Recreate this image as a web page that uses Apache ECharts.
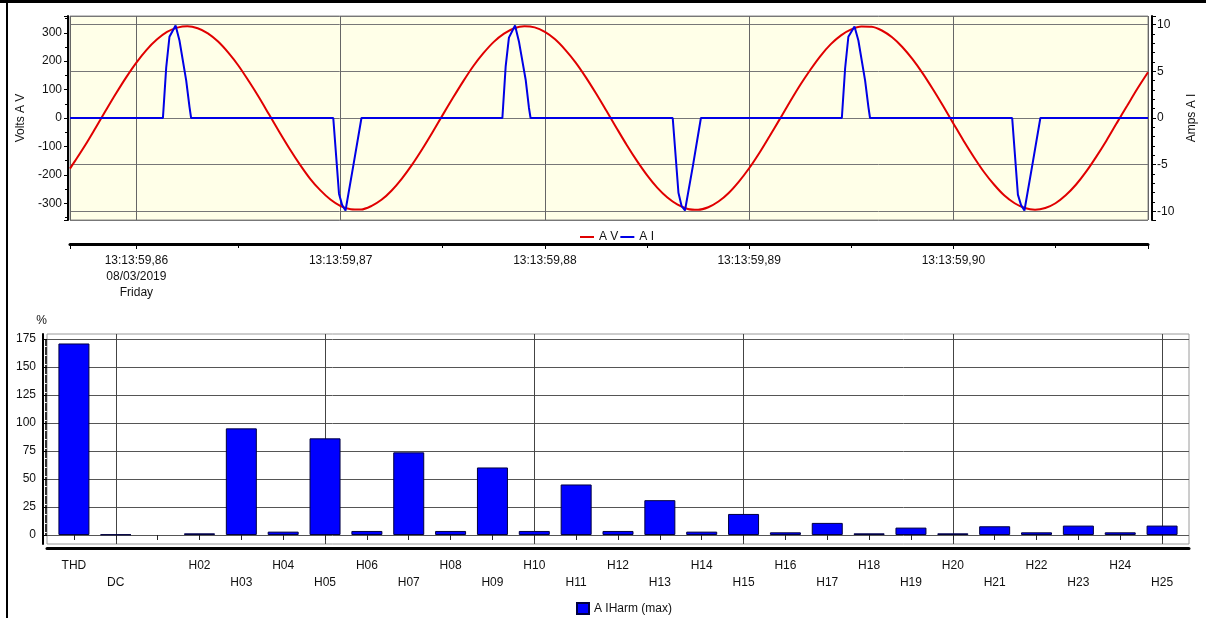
<!DOCTYPE html>
<html lang="en">
<head>
<meta charset="UTF-8">
<title>A V / A I</title>
<script src="https://cdn.jsdelivr.net/npm/echarts@6/dist/echarts.min.js"></script>
<style>
    body { margin: 0; background: #fff; }
    #chart { position: absolute; left: 0; top: 0; width: 1206px; height: 618px; }
    .edge { position: absolute; background: #000; }
</style>
</head>
<body>
<div id="chart"></div>
<div class="edge" style="left:0;top:0;width:1206px;height:3px"></div>
<div class="edge" style="left:6px;top:0;width:2px;height:618px"></div>
<script>
    // time in ms after 13:13:59
    var timePrefix = '13:13:59,';
    var dateLine = '08/03/2019';
    var dayLine = 'Friday';

    var voltTimes = [856.75, 857, 857.5, 858, 858.5, 859, 859.5, 860, 860.5, 861,
        861.5, 862, 862.5, 863, 863.5, 864, 864.5, 865, 865.5, 866,
        866.5, 867, 867.5, 868, 868.5, 869, 869.5, 870, 870.5, 871,
        871.5, 872, 872.5, 873, 873.5, 874, 874.5, 875, 875.5, 876,
        876.5, 877, 877.5, 878, 878.5, 879, 879.5, 880, 880.5, 881,
        881.5, 882, 882.5, 883, 883.5, 884, 884.5, 885, 885.5, 886,
        886.5, 887, 887.5, 888, 888.5, 889, 889.5, 890, 890.5, 891,
        891.5, 892, 892.5, 893, 893.5, 894, 894.5, 895, 895.5, 896,
        896.5, 897, 897.5, 898, 898.5, 899, 899.5, 900, 900.5, 901,
        901.5, 902, 902.5, 903, 903.5, 904, 904.5, 905, 905.5, 906,
        906.5, 907, 907.5, 908, 908.5, 909, 909.53];
    var volts = [-178, -151, -95, -35, 26, 86, 143, 195, 240, 276,
        303, 318, 323, 316, 298, 269, 230, 184, 130, 73,
        12, -49, -108, -163, -213, -254, -287, -310, -321, -322,
        -310, -288, -255, -213, -164, -109, -50, 11, 71, 129,
        183, 229, 268, 297, 316, 323, 319, 303, 277, 240,
        196, 144, 87, 27, -34, -94, -150, -201, -245, -280,
        -305, -320, -323, -314, -294, -264, -224, -177, -123, -64,
        -4, 57, 116, 170, 219, 260, 291, 312, 322, 321,
        308, 284, 250, 207, 157, 101, 42, -19, -80, -137,
        -190, -235, -273, -300, -317, -323, -317, -300, -272, -235,
        -189, -136, -79, -18, 42, 102, 161];

    var ampTimes = [856.75,
        861.30, 861.46, 861.62, 861.92, 862.11, 862.44, 862.60, 862.68,
        869.64, 869.92, 870.07, 870.24, 870.63, 871.02,
        877.92, 878.08, 878.24, 878.54, 878.73, 879.06, 879.22, 879.30,
        886.26, 886.54, 886.69, 886.86, 887.25, 887.64,
        894.54, 894.70, 894.86, 895.16, 895.35, 895.68, 895.84, 895.92,
        902.88, 903.16, 903.31, 903.48, 903.87, 904.26,
        909.53];
    var amps = [0,
        0, 5.4, 8.7, 9.9, 8.3, 4.0, 1.2, 0,
        0, -8.1, -9.3, -9.9, -5.0, 0,
        0, 5.5, 8.6, 9.9, 8.2, 4.1, 1.1, 0,
        0, -8.0, -9.4, -9.9, -5.1, 0,
        0, 5.3, 8.7, 9.8, 8.3, 4.0, 1.2, 0,
        0, -8.2, -9.3, -9.9, -5.0, 0,
        0];

    var harmCats = ['THD', 'DC', 'H01', 'H02', 'H03', 'H04', 'H05', 'H06', 'H07', 'H08', 'H09',
        'H10', 'H11', 'H12', 'H13', 'H14', 'H15', 'H16', 'H17', 'H18', 'H19', 'H20', 'H21', 'H22',
        'H23', 'H24', 'H25'];
    var harmValues = [171, 0.5, null, 1.5, 95.2, 3.0, 86.3, 3.6, 73.8, 3.6, 60.3, 3.6, 45.1, 3.6,
        31.1, 3.0, 18.8, 2.4, 10.8, 1.5, 6.6, 1.5, 7.8, 2.4, 8.4, 2.4, 8.4];

    function pairs(xs, ys) {
        var out = [];
        for (var i = 0; i < xs.length; i++) out.push([xs[i], ys[i]]);
        return out;
    }

    function onStep(v, step) {
        return Math.abs(v - Math.round(v / step) * step) < 1e-6;
    }

    var font = 'Liberation Sans, Arial, sans-serif';
    var black = '#000';
    var noLabel = {show: false};
    var noTick = {show: false};
    var noSplit = {show: false};

    var chart = echarts.init(document.getElementById('chart'));
    var option = {
        animation: false,
        textStyle: {fontFamily: font, fontSize: 12, color: black},
        legend: [{
            data: ['A V', 'A I'],
            left: 575, top: 226,
            icon: 'rect', itemWidth: 14, itemHeight: 2, itemGap: 2,
            textStyle: {fontSize: 12, color: '#111'}
        }, {
            data: ['A IHarm (max)'],
            left: 571, top: 597,
            icon: 'rect', itemWidth: 12, itemHeight: 11,
            textStyle: {fontSize: 12, color: '#111'}
        }],
        grid: [
            {left: 70, top: 16, width: 1082, height: 204, show: true,
                backgroundColor: '#ffffe8', borderColor: '#8a8a8a', borderWidth: 1},
            {left: 47, top: 334, width: 1142, height: 210, show: true,
                backgroundColor: '#fff', borderColor: '#9a9a9a', borderWidth: 1},
            {left: 47, top: 339, width: 1142, height: 196},
            {left: 53, top: 334, width: 1130, height: 210}
        ],
        xAxis: [{
            type: 'value', gridIndex: 0, min: 856.75, max: 909.53,
            offset: 24,
            axisLine: {show: true, onZero: false, lineStyle: {color: black, width: 3}},
            axisTick: {show: true, length: 5, lineStyle: {color: black}},
            minorTick: {show: true, splitNumber: 2, length: 4, lineStyle: {color: black}},
            splitLine: {show: true, lineStyle: {color: '#666', width: 1}},
            axisLabel: {
                margin: 9, lineHeight: 16, color: '#111',
                formatter: function (v) {
                    if (!onStep(v, 10)) return '';
                    var s = timePrefix + Math.round(v / 10);
                    if (Math.round(v) === 860) s += '\n' + dateLine + '\n' + dayLine;
                    return s;
                }
            }
        }, {
            type: 'value', gridIndex: 1, min: 0, max: 1, offset: 4,
            axisLine: {show: true, onZero: false, lineStyle: {color: black, width: 3}},
            axisTick: noTick, axisLabel: noLabel, splitLine: noSplit
        }, {
            type: 'value', gridIndex: 2, min: 0, max: 1, show: false
        }, {
            type: 'category', gridIndex: 3, data: harmCats, offset: 4,
            axisLine: {show: false},
            axisTick: {show: true, alignWithLabel: true, interval: 0, length: 5, lineStyle: {color: '#222'}},
            splitLine: {
                show: true, alignWithLabel: true,
                interval: function (i) { return (i - 1) % 5 === 0; },
                lineStyle: {color: '#444', width: 1}
            },
            axisLabel: {
                interval: 0, margin: 9, lineHeight: 17, color: '#111',
                formatter: function (name) {
                    if (name === 'H01') return '';
                    var second = name === 'DC' || (name[0] === 'H' && parseInt(name.slice(1), 10) % 2 === 1);
                    return second ? '\n' + name : name;
                }
            }
        }],
        yAxis: [{
            type: 'value', gridIndex: 0, position: 'left', min: -359, max: 359, offset: 2,
            name: 'Volts A V', nameLocation: 'middle', nameGap: 41, nameRotate: 90,
            nameTextStyle: {fontSize: 12, color: '#111'},
            axisLine: {show: true, onZero: false, lineStyle: {color: black, width: 2}},
            axisTick: {show: true, length: 4, lineStyle: {color: black}},
            minorTick: {show: true, splitNumber: 2, length: 3, lineStyle: {color: black}},
            splitLine: noSplit,
            axisLabel: {
                margin: 6, color: '#111',
                formatter: function (v) { return onStep(v, 100) ? String(Math.round(v)) : ''; }
            }
        }, {
            type: 'value', gridIndex: 0, position: 'right', min: -10.92, max: 10.92, offset: 4,
            name: 'Amps A I', nameLocation: 'middle', nameGap: 34, nameRotate: 90,
            nameTextStyle: {fontSize: 12, color: '#111'},
            axisLine: {show: true, onZero: false, lineStyle: {color: black, width: 2}},
            axisTick: {show: true, length: 4, lineStyle: {color: black}},
            minorTick: {show: true, splitNumber: 5, length: 3, lineStyle: {color: black}},
            splitLine: {show: true, lineStyle: {color: '#777', width: 1}},
            axisLabel: {
                margin: 5, color: '#111',
                formatter: function (v) { return onStep(v, 5) ? String(Math.round(v)) : ''; }
            }
        }, {
            type: 'value', gridIndex: 1, min: 0, max: 1, offset: 4,
            axisLine: {show: true, onZero: false, lineStyle: {color: black, width: 2}},
            axisTick: noTick, axisLabel: noLabel, splitLine: noSplit
        }, {
            type: 'value', gridIndex: 2, min: 0, max: 175, interval: 25, offset: 4,
            name: '%', nameLocation: 'end', nameGap: 12,
            nameTextStyle: {fontSize: 12, color: '#111', align: 'right'},
            axisLine: {show: false},
            axisTick: {show: true, length: 5, lineStyle: {color: black}},
            minorTick: {show: true, splitNumber: 25, length: 2, lineStyle: {color: '#333'}},
            splitLine: {show: true, lineStyle: {color: '#555', width: 1}},
            axisLabel: {margin: 7, color: '#111'}
        }, {
            type: 'value', gridIndex: 3, min: -8.04, max: 179.46, show: false
        }],
        series: [{
            name: 'A V', type: 'line', xAxisIndex: 0, yAxisIndex: 0,
            data: pairs(voltTimes, volts), symbol: 'none', smooth: 0.3,
            lineStyle: {color: '#e00000', width: 2}, itemStyle: {color: '#e00000'}
        }, {
            name: 'A I', type: 'line', xAxisIndex: 0, yAxisIndex: 1,
            data: pairs(ampTimes, amps), symbol: 'none',
            lineStyle: {color: '#0000e6', width: 2}, itemStyle: {color: '#0000e6'}
        }, {
            name: 'A IHarm (max)', type: 'bar', xAxisIndex: 3, yAxisIndex: 4,
            data: harmValues, barWidth: 31,
            itemStyle: {color: '#0000ff', borderColor: '#000040', borderWidth: 1}
        }]
    };
    chart.setOption(option);
</script>
</body>
</html>
